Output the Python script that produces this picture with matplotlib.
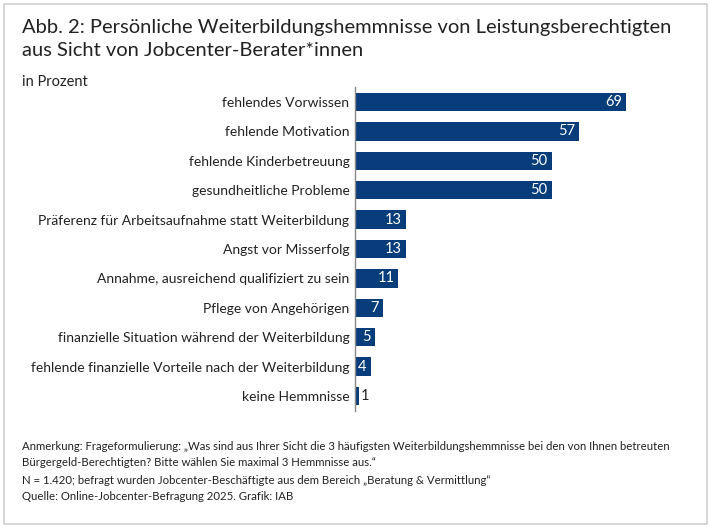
import matplotlib
matplotlib.use('Agg')
import matplotlib.pyplot as plt
from matplotlib.patches import Rectangle

# data
categories = [
    'fehlendes Vorwissen',
    'fehlende Motivation',
    'fehlende Kinderbetreuung',
    'gesundheitliche Probleme',
    'Präferenz für Arbeitsaufnahme statt Weiterbildung',
    'Angst vor Misserfolg',
    'Annahme, ausreichend qualifiziert zu sein',
    'Pflege von Angehörigen',
    'finanzielle Situation während der Weiterbildung',
    'fehlende finanzielle Vorteile nach der Weiterbildung',
    'keine Hemmnisse',
]
values = [69, 57, 50, 50, 13, 13, 11, 7, 5, 4, 1]

title = 'Abb. 2: Persönliche Weiterbildungshemmnisse von Leistungsberechtigten\naus Sicht von Jobcenter-Berater*innen'
subtitle = 'in Prozent'
notes = [
    'Anmerkung: Frageformulierung: „Was sind aus Ihrer Sicht die 3 häufigsten Weiterbildungshemmnisse bei den von Ihnen betreuten',
    'Bürgergeld-Berechtigten? Bitte wählen Sie maximal 3 Hemmnisse aus.“',
    'N = 1.420; befragt wurden Jobcenter-Beschäftigte aus dem Bereich „Beratung & Vermittlung“',
    'Quelle: Online-Jobcenter-Befragung 2025. Grafik: IAB',
]

BLUE = '#063d7a'
TEXT = '#222222'
plt.rcParams['font.family'] = ['Lato', 'DejaVu Sans']

fig = plt.figure(figsize=(7.11, 5.30), dpi=100)

# frame around the whole graphic
fig.patches.append(Rectangle((4 / 711, 6 / 530), 703 / 711, 520 / 530,
                             transform=fig.transFigure, fill=False,
                             edgecolor='#cfcfcf', linewidth=1.2))

ax = fig.add_axes([355 / 711, 1 - 410.7 / 530, 80 * 3.93 / 711, 323.4 / 530])
y = list(range(len(values)))
ax.barh(y, values, height=0.62, color=BLUE)
ax.set_xlim(0, 80)
ax.set_ylim(len(values) - 0.5, -0.5)
ax.set_yticks(y)
ax.set_yticklabels(categories, fontsize=10, color=TEXT)
ax.tick_params(axis='y', length=0, pad=4)
ax.set_xticks([])
for s in ['top', 'right', 'bottom']:
    ax.spines[s].set_visible(False)
ax.spines['left'].set_color('#888888')
ax.spines['left'].set_linewidth(1.0)

for yi, v in zip(y, values):
    if v >= 3:
        ax.text(v - 1.0, yi, str(v), ha='right', va='center',
                color='white', fontsize=10.5)
    else:
        ax.text(v + 0.5, yi, str(v), ha='left', va='center',
                color=TEXT, fontsize=10.5)

fig.text(22 / 711, 1 - 19 / 530, title, ha='left', va='top',
         fontsize=14.5, color=TEXT, linespacing=1.45)
fig.text(22 / 711, 1 - 82 / 530, subtitle, ha='left', va='center',
         fontsize=10.5, color=TEXT)

note_y = [447, 463, 480, 497]
for t, ny in zip(notes, note_y):
    fig.text(22 / 711, 1 - ny / 530, t, ha='left', va='center',
             fontsize=8.2, color=TEXT)

fig.savefig('out.png', dpi=100)
